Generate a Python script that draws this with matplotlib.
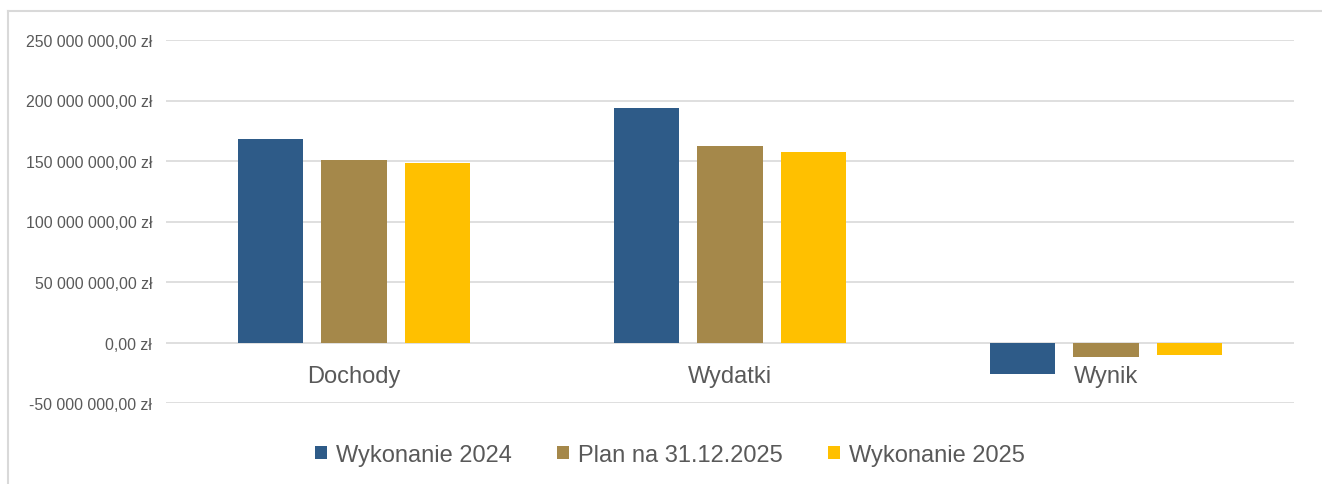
import matplotlib
matplotlib.use('Agg')
import matplotlib.pyplot as plt
import numpy as np
from matplotlib.lines import Line2D
from matplotlib.patches import Patch
from matplotlib.ticker import FuncFormatter, MultipleLocator

plt.rcParams['font.family'] = ['Liberation Sans', 'DejaVu Sans']

# ---------------------------------------------------------------------------
# Data (zł)
# ---------------------------------------------------------------------------
categories = ['Dochody', 'Wydatki', 'Wynik']
series_names = ['Wykonanie 2024', 'Plan na 31.12.2025', 'Wykonanie 2025']
wykonanie_2024 = [167.8e6, 193.4e6, -25.9e6]
plan_2025 = [150.9e6, 162.2e6, -11.6e6]
wykonanie_2025 = [148.0e6, 157.8e6, -10.2e6]

COLORS = ['#2E5B88', '#A5884A', '#FFC000']
TEXT = '#595959'
GRID = '#D9D9D9'


def pln(v, _pos=None):
    s = f"{abs(v):,.2f}".replace(',', ' ').replace('.', ',')
    return f"{'-' if v < 0 else ''}{s} zł"


fig = plt.figure(figsize=(13.22, 4.85), dpi=100)
ax = fig.add_axes([166 / 1322, 1 - 404 / 485, 1128 / 1322, 363 / 485])

x = np.arange(len(categories))
offsets = [-0.222, 0.0, 0.222]
for vals, off, col, name in zip([wykonanie_2024, plan_2025, wykonanie_2025],
                                offsets, COLORS, series_names):
    ax.bar(x + off, vals, width=0.175, color=col, label=name, zorder=3)

ax.set_xlim(-0.5, len(categories) - 0.5)
ax.set_ylim(-50e6, 250e6)
ax.yaxis.set_major_locator(MultipleLocator(50e6))
ax.yaxis.set_major_formatter(FuncFormatter(pln))
ax.grid(axis='y', color=GRID, lw=1.2, zorder=0)

# category labels sit under the zero line
ax.spines['bottom'].set_position(('data', 0))
for sp in ax.spines.values():
    sp.set_visible(False)
ax.set_xticks(x)
ax.set_xticklabels(categories)
ax.xaxis.set_zorder(5)
ax.tick_params(axis='x', length=0, pad=16, labelsize=17, labelcolor=TEXT)
ax.tick_params(axis='y', length=0, pad=10, labelsize=11.4, labelcolor=TEXT)

# chart frame (light border, cut by the image edges)
fig.add_artist(Line2D([8 / 1322, 1.01], [1 - 12 / 485, 1 - 12 / 485],
                      color=GRID, lw=1.5, transform=fig.transFigure))
fig.add_artist(Line2D([8 / 1322, 8 / 1322], [1 - 12 / 485, -0.01],
                      color=GRID, lw=1.5, transform=fig.transFigure))

handles = [Patch(facecolor=c, label=n) for c, n in zip(COLORS, series_names)]
fig.legend(handles=handles, loc='center', bbox_to_anchor=(670 / 1322, 1 - 456 / 485),
           ncol=3, frameon=False, fontsize=17, labelcolor=TEXT,
           handlelength=0.5, handleheight=0.5, handletextpad=0.4,
           columnspacing=1.9)

fig.savefig('out.png', dpi=100)
